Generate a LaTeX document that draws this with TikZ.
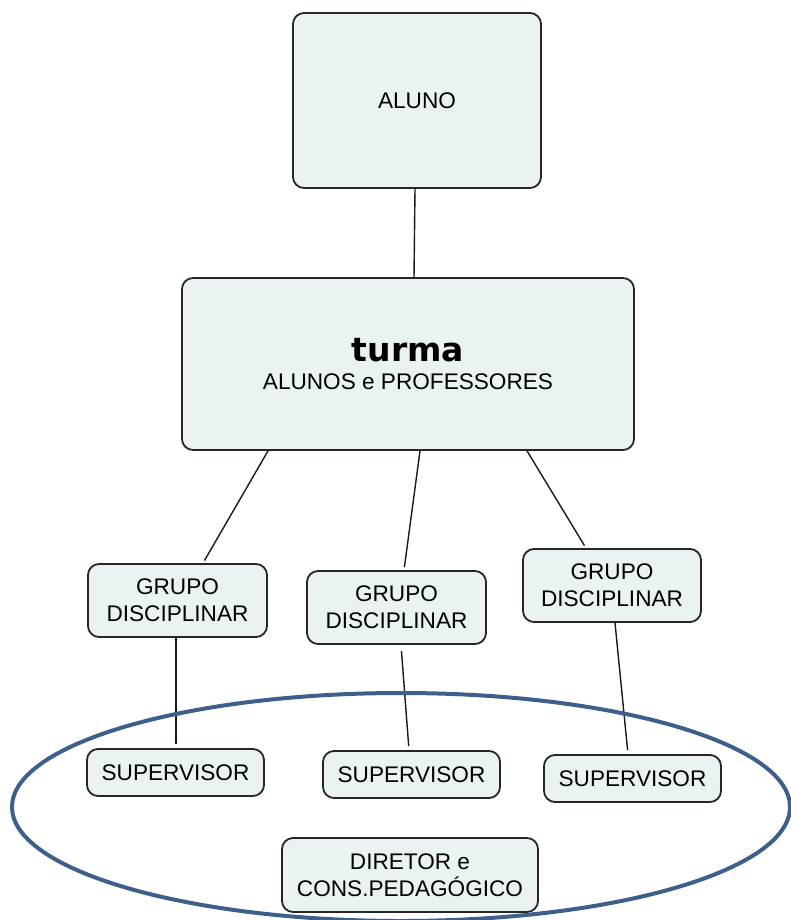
\documentclass[tikz,border=0pt]{standalone}
\usepackage{fontspec}
\setmainfont{Liberation Sans}
\newfontfamily\boldhead{DejaVu Sans}
\begin{document}
\begin{tikzpicture}[x=1pt,y=-1pt,
  box/.style={draw=black!85, line width=1.8pt, fill=boxfill, rounded corners=11pt,
    align=center, inner sep=0pt, font=\fontsize{22.6}{27}\selectfont},
  link/.style={draw=black!90, line width=1.4pt}]
\definecolor{boxfill}{HTML}{EBF2F4}
\definecolor{ringblue}{HTML}{3E5F8C}
\useasboundingbox (0,0) rectangle (791,920);

% top concept and class
\node[box, minimum width=248pt, minimum height=175pt] (aluno) at (417,100.5) {ALUNO};
\node[box, minimum width=452pt, minimum height=172pt] (turma) at (408,364)
  {{\boldhead\bfseries\fontsize{33}{36}\selectfont turma}\\[1pt]ALUNOS e PROFESSORES};

% subject groups
\node[box, minimum width=179pt, minimum height=73pt] (g1) at (177.5,600.5) {GRUPO\\DISCIPLINAR};
\node[box, minimum width=179pt, minimum height=73pt] (g2) at (396.5,607.5) {GRUPO\\DISCIPLINAR};
\node[box, minimum width=178pt, minimum height=73pt] (g3) at (612,585.5) {GRUPO\\DISCIPLINAR};

% supervisors and direction
\node[box, minimum width=177pt, minimum height=47pt] (s1) at (175.5,772.5) {SUPERVISOR};
\node[box, minimum width=177pt, minimum height=47pt] (s2) at (411.5,774.5) {SUPERVISOR};
\node[box, minimum width=177pt, minimum height=47pt] (s3) at (632.5,778.5) {SUPERVISOR};
\node[box, minimum width=256pt, minimum height=74pt] (dir) at (410,875) {DIRETOR e\\CONS.PEDAGÓGICO};

% connectors
\draw[link] ([xshift=-2pt]aluno.south) -- ([xshift=6pt]turma.north);
\draw[link, shorten >=3pt] ([xshift=-140pt]turma.south) -- ([xshift=25.5pt]g1.north);
\draw[link, shorten >=3pt] ([xshift=12pt]turma.south) -- ([xshift=7.5pt]g2.north);
\draw[link, shorten >=3pt] ([xshift=119pt]turma.south) -- ([xshift=-26pt]g3.north);
\draw[link, shorten >=4pt] ([xshift=-1.5pt]g1.south) -- ([xshift=0.5pt]s1.north);
\draw[link, shorten <=6pt, shorten >=4pt] ([xshift=4.5pt]g2.south) -- ([xshift=-2.5pt]s2.north);
\draw[link, shorten >=4pt] ([xshift=3pt]g3.south) -- ([xshift=-4.5pt]s3.north);

% ring around the school staff
\draw[ringblue, line width=4pt] (401,807) ellipse [x radius=389pt, y radius=114pt];
\end{tikzpicture}
\end{document}
